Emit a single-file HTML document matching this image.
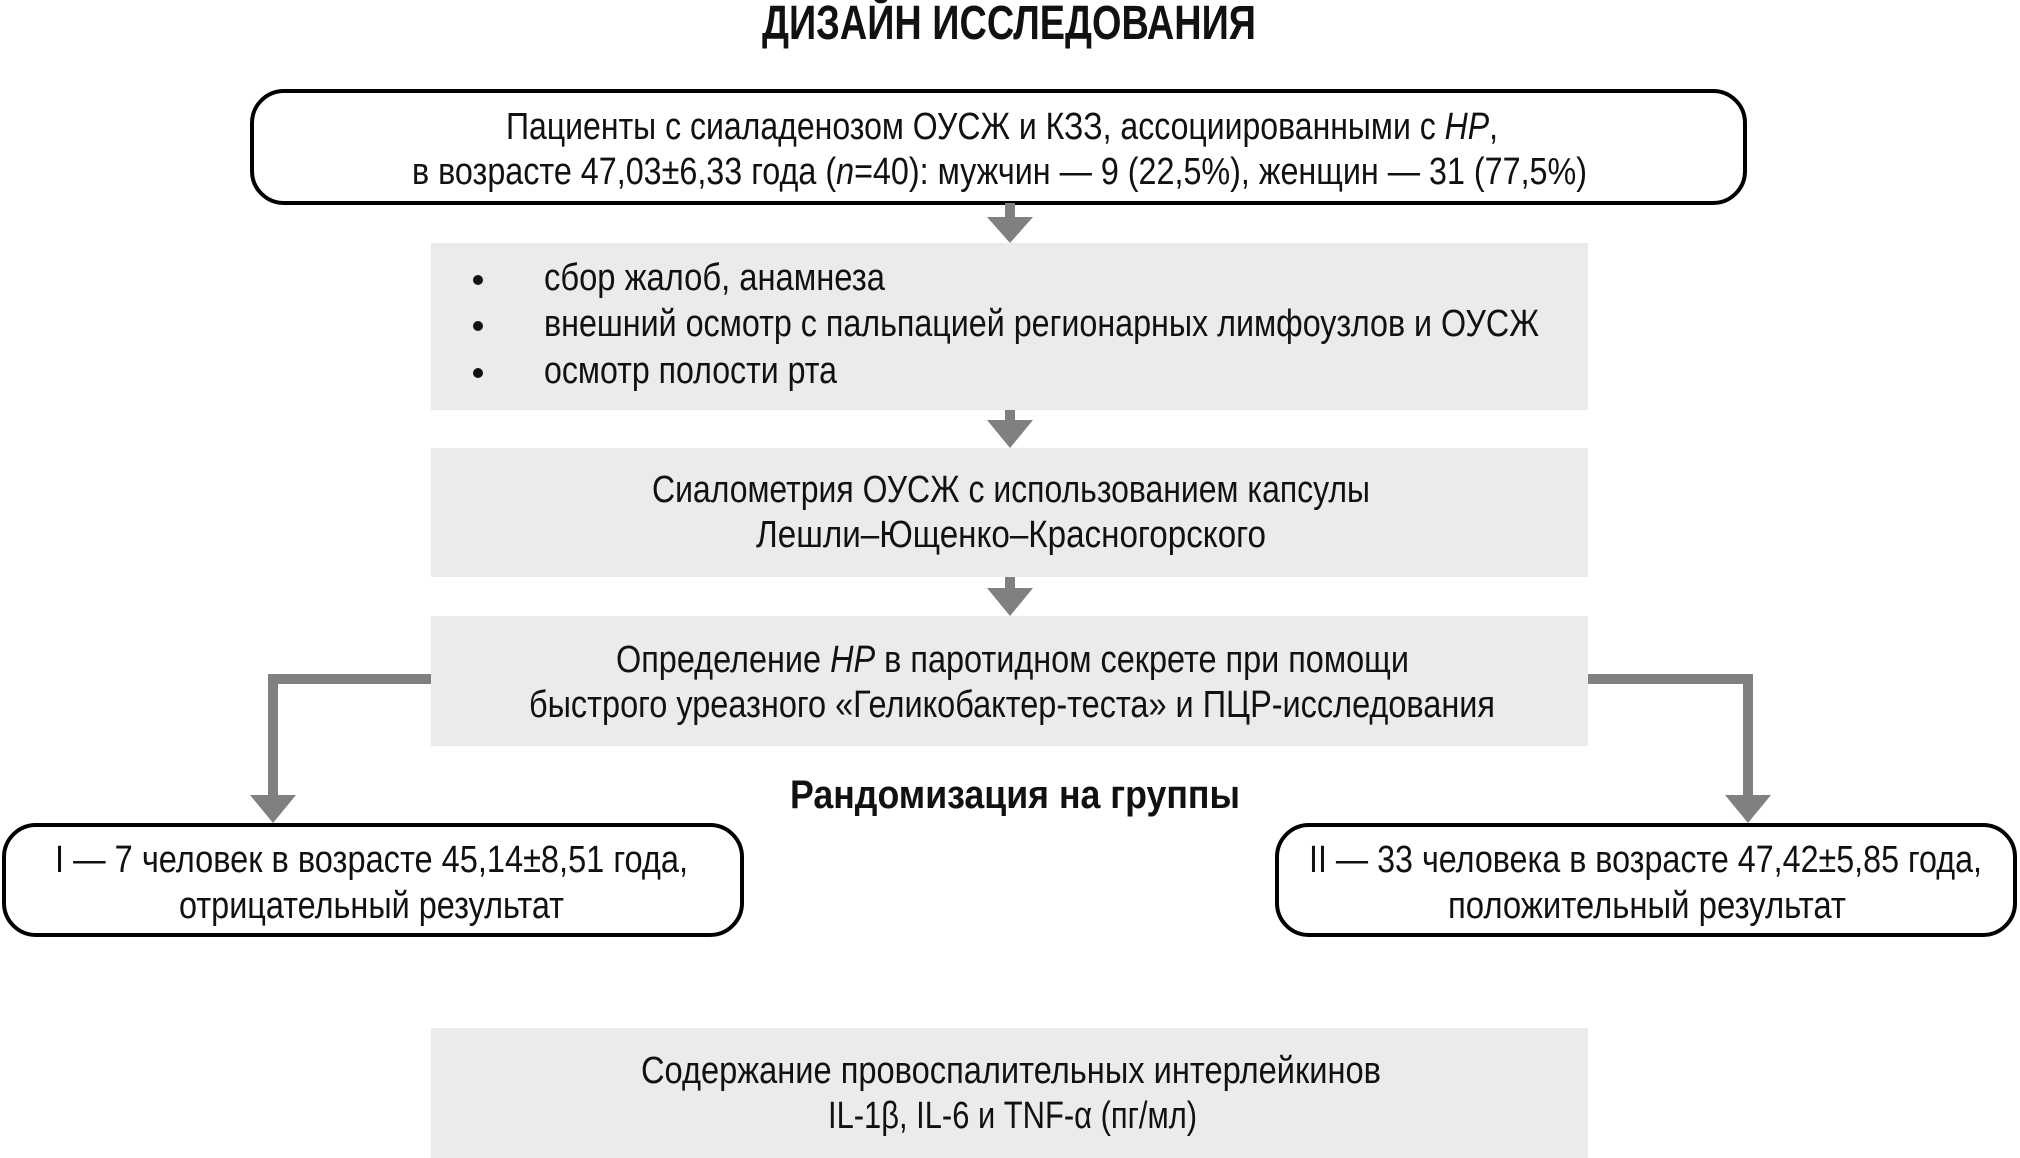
<!DOCTYPE html>
<html><head><meta charset="utf-8"><style>html,body{margin:0;padding:0;background:#fff}svg{display:block}</style></head>
<body>
<svg width="2020" height="1158" viewBox="0 0 2020 1158" xmlns="http://www.w3.org/2000/svg" font-family="'Liberation Sans', sans-serif" fill="#111">
<text x="762" y="39" font-size="48" font-weight="bold" textLength="494" lengthAdjust="spacingAndGlyphs">ДИЗАЙН ИССЛЕДОВАНИЯ</text>

<rect x="252" y="91" width="1493" height="112" rx="32" fill="#fff" stroke="#000" stroke-width="4"/>
<text x="506" y="139" font-size="38" textLength="992" lengthAdjust="spacingAndGlyphs">Пациенты с сиаладенозом ОУСЖ и КЗЗ, ассоциированными с <tspan font-style="italic">HP</tspan>,</text>
<text x="412" y="184" font-size="38" textLength="1175" lengthAdjust="spacingAndGlyphs">в возрасте 47,03±6,33 года (<tspan font-style="italic">n</tspan>=40): мужчин — 9 (22,5%), женщин — 31 (77,5%)</text>

<g fill="#808080">
<rect x="1005" y="203" width="10" height="14"/><polygon points="987,217 1033,217 1010,243"/>
<rect x="1005" y="410" width="10" height="10"/><polygon points="987,420 1033,420 1010,448"/>
<rect x="1005" y="577" width="10" height="11"/><polygon points="987,588 1033,588 1010,616"/>
<polygon points="250,795 296,795 273,823"/>
<polygon points="1725,795 1771,795 1748,823"/>
</g>
<polyline points="431,679 273,679 273,797" fill="none" stroke="#808080" stroke-width="10"/>
<polyline points="1588,679 1748,679 1748,797" fill="none" stroke="#808080" stroke-width="10"/>

<rect x="431" y="243" width="1157" height="167" fill="#ebebeb"/>
<circle cx="478" cy="280" r="5"/><circle cx="478" cy="326" r="5"/><circle cx="478" cy="373" r="5"/>
<text x="544" y="290" font-size="38" textLength="341" lengthAdjust="spacingAndGlyphs">сбор жалоб, анамнеза</text>
<text x="544" y="336" font-size="38" textLength="995" lengthAdjust="spacingAndGlyphs">внешний осмотр с пальпацией регионарных лимфоузлов и ОУСЖ</text>
<text x="544" y="383" font-size="38" textLength="293" lengthAdjust="spacingAndGlyphs">осмотр полости рта</text>

<rect x="431" y="448" width="1157" height="129" fill="#ebebeb"/>
<text x="652" y="502" font-size="38" textLength="718" lengthAdjust="spacingAndGlyphs">Сиалометрия ОУСЖ с использованием капсулы</text>
<text x="756" y="547" font-size="38" textLength="510" lengthAdjust="spacingAndGlyphs">Лешли–Ющенко–Красногорского</text>

<rect x="431" y="616" width="1157" height="130" fill="#ebebeb"/>
<text x="616" y="672" font-size="38" textLength="793" lengthAdjust="spacingAndGlyphs">Определение <tspan font-style="italic">HP</tspan> в паротидном секрете при помощи</text>
<text x="529" y="717" font-size="38" textLength="966" lengthAdjust="spacingAndGlyphs">быстрого уреазного «Геликобактер-теста» и ПЦР-исследования</text>

<text x="790" y="808" font-size="40" font-weight="bold" textLength="450" lengthAdjust="spacingAndGlyphs">Рандомизация на группы</text>

<rect x="4" y="825" width="738" height="110" rx="32" fill="#fff" stroke="#000" stroke-width="4"/>
<text x="55" y="872" font-size="38" textLength="633" lengthAdjust="spacingAndGlyphs">I — 7 человек в возрасте 45,14±8,51 года,</text>
<text x="179" y="918" font-size="38" textLength="385" lengthAdjust="spacingAndGlyphs">отрицательный результат</text>

<rect x="1277" y="825" width="738" height="110" rx="32" fill="#fff" stroke="#000" stroke-width="4"/>
<text x="1309" y="872" font-size="38" textLength="673" lengthAdjust="spacingAndGlyphs">II — 33 человека в возрасте 47,42±5,85 года,</text>
<text x="1448" y="918" font-size="38" textLength="398" lengthAdjust="spacingAndGlyphs">положительный результат</text>

<rect x="431" y="1028" width="1157" height="130" fill="#ebebeb"/>
<text x="641" y="1083" font-size="38" textLength="740" lengthAdjust="spacingAndGlyphs">Содержание провоспалительных интерлейкинов</text>
<text x="828" y="1128" font-size="38" textLength="369" lengthAdjust="spacingAndGlyphs">IL-1β, IL-6 и TNF-α (пг/мл)</text>
</svg>
</body></html>
